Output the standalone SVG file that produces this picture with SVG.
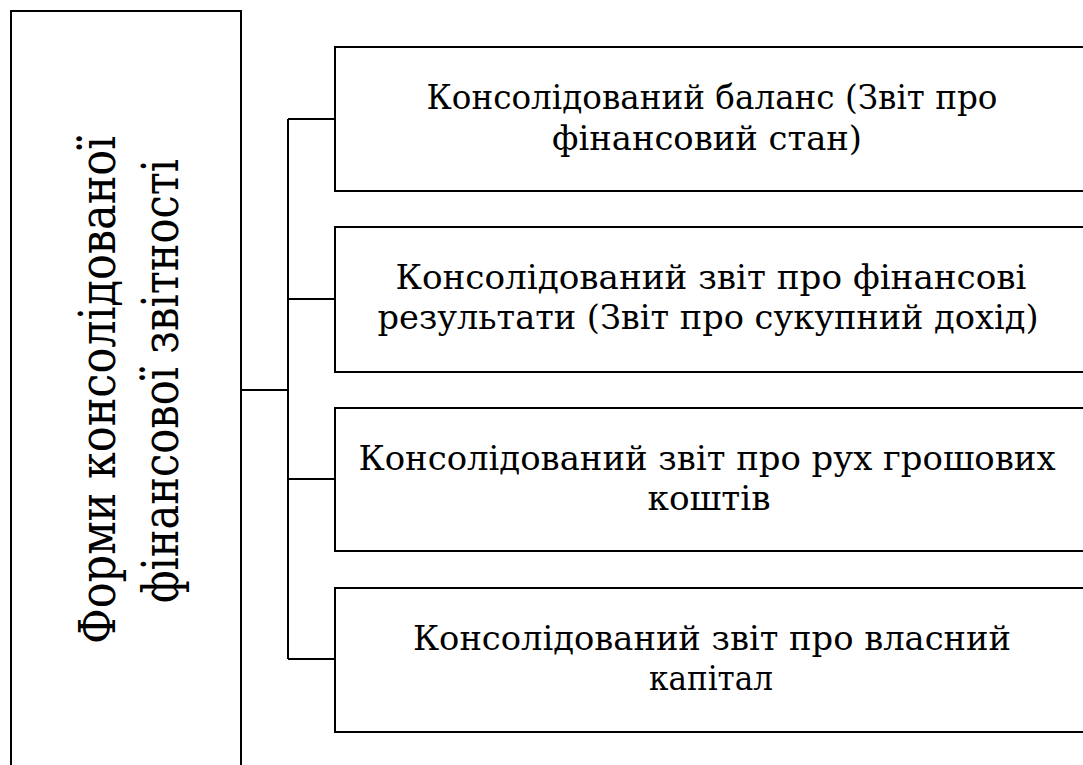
<svg xmlns="http://www.w3.org/2000/svg" width="1083" height="765" viewBox="0 0 1083 765">
<style>
.box{fill:#fff;stroke:#000;stroke-width:2}
.conn{fill:none;stroke:#000;stroke-width:2}
.t{font-family:'DejaVu Serif',serif;font-size:34px;fill:#000;text-anchor:middle}
.lt{font-family:'DejaVu Serif',serif;font-size:50px;fill:#000;text-anchor:middle}
</style>
<rect width="1083" height="765" fill="#fff"/>
<g id="connectors">
<path class="conn" d="M241,390 H288 M288,119 V659 M288,119 H335 M288,299 H335 M288,479 H335 M288,659 H335"/>
</g>
<g id="root">
<rect class="box" x="11" y="11" width="230" height="780"/>
<text class="lt" transform="translate(115,390) rotate(-90)" textLength="508" lengthAdjust="spacingAndGlyphs">Форми консолідованої</text>
<text class="lt" transform="translate(178,381) rotate(-90)" textLength="444" lengthAdjust="spacingAndGlyphs">фінансової звітності</text>
</g>
<g id="n1">
<rect class="box" x="335" y="47" width="760" height="144"/>
<text class="t" x="712" y="109" textLength="571" lengthAdjust="spacingAndGlyphs">Консолідований  баланс (Звіт про</text>
<text class="t" x="707" y="150" textLength="310" lengthAdjust="spacingAndGlyphs">фінансовий стан)</text>
</g>
<g id="n2">
<rect class="box" x="335" y="227" width="760" height="145"/>
<text class="t" x="711" y="289" textLength="631" lengthAdjust="spacingAndGlyphs">Консолідований звіт про фінансові</text>
<text class="t" x="708" y="329" textLength="661" lengthAdjust="spacingAndGlyphs">результати (Звіт про сукупний дохід)</text>
</g>
<g id="n3">
<rect class="box" x="335" y="408" width="760" height="143"/>
<text class="t" x="707" y="470" textLength="697" lengthAdjust="spacingAndGlyphs">Консолідований звіт про рух грошових</text>
<text class="t" x="709" y="510" textLength="123" lengthAdjust="spacingAndGlyphs">коштів</text>
</g>
<g id="n4">
<rect class="box" x="335" y="588" width="760" height="144"/>
<text class="t" x="712" y="650" textLength="598" lengthAdjust="spacingAndGlyphs">Консолідований звіт про власний</text>
<text class="t" x="711" y="690" textLength="124" lengthAdjust="spacingAndGlyphs">капітал</text>
</g>
</svg>
